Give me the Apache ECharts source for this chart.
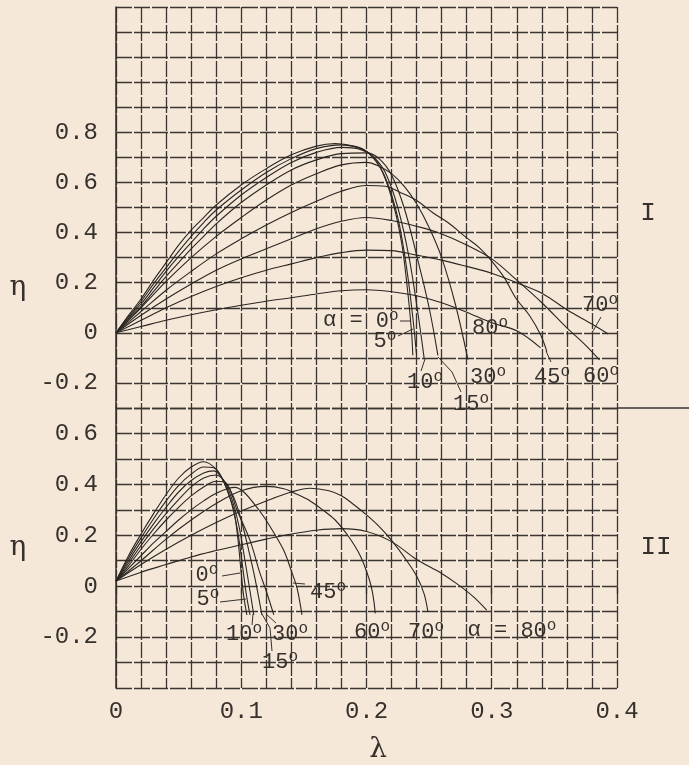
<!DOCTYPE html>
<html>
<head>
<meta charset="utf-8">
<script src="https://cdn.jsdelivr.net/npm/echarts/dist/echarts.min.js"></script>
<style>
html, body { margin: 0; padding: 0; background: #f6e8d9; }
#chart { width: 689px; height: 765px; }
</style>
</head>
<body>
<div id="chart"></div>
<script>
// tick labels that are printed
var lambdaTicks = [0, 0.1, 0.2, 0.3, 0.4];
var etaTicksI = [-0.2, 0, 0.2, 0.4, 0.6, 0.8];
var etaTicksII = [-0.2, 0, 0.2, 0.4, 0.6];

var alphas = ['0°', '5°', '10°', '15°', '30°', '45°', '60°', '70°', '80°'];

// panel I  [lambda, eta]
var I0 = [[0,0],[0.01,0.07],[0.02,0.135],[0.03,0.21],[0.04,0.28],[0.05,0.35],[0.06,0.41],[0.07,0.46],[0.08,0.51],[0.1,0.59],[0.12,0.655],[0.14,0.71],[0.16,0.745],[0.175,0.755],[0.19,0.745],[0.2,0.725],[0.21,0.67],[0.22,0.54],[0.228,0.36],[0.233,0.16],[0.236,0.0],[0.237,-0.09]];
var I5 = [[0,0],[0.01,0.065],[0.02,0.125],[0.03,0.195],[0.04,0.26],[0.05,0.325],[0.06,0.385],[0.07,0.44],[0.08,0.49],[0.1,0.57],[0.12,0.64],[0.14,0.695],[0.16,0.735],[0.18,0.75],[0.195,0.735],[0.205,0.7],[0.215,0.62],[0.225,0.46],[0.232,0.26],[0.237,0.06],[0.24,-0.09]];
var I10 = [[0,0],[0.01,0.06],[0.02,0.115],[0.03,0.18],[0.04,0.245],[0.05,0.305],[0.06,0.36],[0.07,0.415],[0.08,0.465],[0.1,0.55],[0.12,0.62],[0.14,0.68],[0.16,0.72],[0.18,0.74],[0.195,0.732],[0.205,0.705],[0.215,0.64],[0.225,0.5],[0.234,0.3],[0.241,0.08],[0.246,-0.1]];
var I15 = [[0,0],[0.01,0.055],[0.02,0.105],[0.03,0.165],[0.04,0.225],[0.05,0.28],[0.06,0.335],[0.07,0.385],[0.08,0.435],[0.1,0.52],[0.12,0.59],[0.14,0.65],[0.16,0.69],[0.18,0.715],[0.2,0.718],[0.21,0.695],[0.22,0.63],[0.23,0.5],[0.24,0.31],[0.25,0.1],[0.257,-0.09]];
var I30 = [[0,0],[0.01,0.05],[0.02,0.1],[0.04,0.205],[0.06,0.3],[0.08,0.385],[0.1,0.46],[0.12,0.53],[0.14,0.59],[0.16,0.635],[0.18,0.67],[0.2,0.68],[0.21,0.665],[0.22,0.635],[0.23,0.585],[0.24,0.515],[0.25,0.42],[0.26,0.3],[0.271,0.113],[0.281,-0.107]];
var I45 = [[0,0],[0.02,0.085],[0.04,0.17],[0.06,0.245],[0.08,0.315],[0.1,0.375],[0.12,0.43],[0.14,0.48],[0.16,0.525],[0.18,0.565],[0.2,0.588],[0.215,0.585],[0.227,0.56],[0.24,0.528],[0.253,0.479],[0.265,0.44],[0.28,0.379],[0.29,0.34],[0.299,0.292],[0.31,0.22],[0.319,0.14],[0.33,0.07],[0.339,-0.008],[0.344,-0.075]];
var I60 = [[0,0],[0.02,0.07],[0.04,0.135],[0.06,0.195],[0.08,0.25],[0.1,0.295],[0.12,0.335],[0.14,0.375],[0.16,0.415],[0.18,0.445],[0.2,0.46],[0.22,0.448],[0.24,0.425],[0.257,0.4],[0.28,0.35],[0.3,0.295],[0.32,0.21],[0.34,0.12],[0.36,0.02],[0.375,-0.05],[0.386,-0.108]];
var I70 = [[0,0],[0.02,0.05],[0.04,0.1],[0.06,0.145],[0.08,0.185],[0.1,0.22],[0.12,0.25],[0.14,0.275],[0.16,0.3],[0.18,0.32],[0.2,0.33],[0.22,0.328],[0.24,0.31],[0.26,0.29],[0.28,0.265],[0.3,0.238],[0.32,0.2],[0.34,0.158],[0.36,0.092],[0.38,0.035],[0.393,-0.005]];
var I80 = [[0,0],[0.02,0.025],[0.04,0.05],[0.06,0.072],[0.08,0.092],[0.1,0.11],[0.12,0.126],[0.14,0.14],[0.16,0.155],[0.18,0.168],[0.2,0.172],[0.22,0.164],[0.24,0.148],[0.26,0.12],[0.28,0.082],[0.3,0.04],[0.32,0.008],[0.339,-0.06]];

// panel II  [lambda, eta]
var II0 = [[0,0.02],[0.01,0.12],[0.02,0.205],[0.03,0.285],[0.04,0.36],[0.05,0.425],[0.06,0.468],[0.07,0.489],[0.08,0.46],[0.086,0.41],[0.09,0.36],[0.094,0.3],[0.097,0.2],[0.1,0.05],[0.102,-0.04],[0.1045,-0.113]];
var II5 = [[0,0.02],[0.01,0.11],[0.02,0.19],[0.03,0.265],[0.04,0.335],[0.05,0.395],[0.06,0.44],[0.07,0.468],[0.078,0.465],[0.086,0.41],[0.092,0.33],[0.097,0.22],[0.101,0.08],[0.104,-0.03],[0.107,-0.113]];
var II10 = [[0,0.02],[0.01,0.1],[0.02,0.175],[0.03,0.245],[0.04,0.31],[0.05,0.37],[0.06,0.415],[0.07,0.445],[0.078,0.453],[0.086,0.415],[0.092,0.35],[0.098,0.24],[0.103,0.1],[0.107,-0.02],[0.11,-0.113]];
var II15 = [[0,0.02],[0.01,0.09],[0.02,0.16],[0.03,0.225],[0.04,0.285],[0.05,0.34],[0.06,0.39],[0.07,0.425],[0.08,0.437],[0.087,0.41],[0.094,0.35],[0.1,0.26],[0.106,0.14],[0.111,0.03],[0.1165,-0.113]];
var II30 = [[0,0.02],[0.01,0.08],[0.02,0.145],[0.03,0.205],[0.04,0.26],[0.05,0.31],[0.06,0.355],[0.07,0.39],[0.08,0.412],[0.088,0.405],[0.0965,0.3],[0.107,0.18],[0.115,0.05],[0.12,-0.02],[0.126,-0.113]];
var II45 = [[0,0.02],[0.01,0.07],[0.02,0.12],[0.03,0.17],[0.04,0.215],[0.05,0.26],[0.06,0.3],[0.07,0.335],[0.08,0.365],[0.09,0.385],[0.095,0.388],[0.102,0.37],[0.11,0.325],[0.118,0.273],[0.126,0.21],[0.134,0.14],[0.14,0.06],[0.1445,-0.007],[0.1485,-0.113]];
var II60 = [[0,0.02],[0.02,0.1],[0.04,0.185],[0.06,0.26],[0.08,0.325],[0.1,0.375],[0.12,0.392],[0.134,0.383],[0.145,0.36],[0.155,0.335],[0.165,0.3],[0.175,0.26],[0.185,0.2],[0.195,0.12],[0.202,0.03],[0.205,-0.03],[0.207,-0.107]];
var II70 = [[0,0.02],[0.02,0.085],[0.04,0.145],[0.06,0.2],[0.08,0.25],[0.1,0.295],[0.12,0.335],[0.14,0.37],[0.155,0.385],[0.17,0.375],[0.18,0.355],[0.19,0.32],[0.2,0.28],[0.21,0.235],[0.22,0.18],[0.23,0.115],[0.24,0.04],[0.246,-0.03],[0.249,-0.1]];
var II80 = [[0,0.02],[0.02,0.055],[0.04,0.085],[0.06,0.115],[0.08,0.14],[0.1,0.163],[0.12,0.185],[0.14,0.205],[0.16,0.22],[0.18,0.226],[0.2,0.215],[0.22,0.175],[0.24,0.105],[0.26,0.05],[0.272,0.01],[0.285,-0.04],[0.296,-0.094]];

var panelI = [I0, I5, I10, I15, I30, I45, I60, I70, I80];
var panelII = [II0, II5, II10, II15, II30, II45, II60, II70, II80];

var ink = '#36312c';
var gridLine = { color: '#3a3530', width: 1.3, type: [16, 2] };
var mono = '"Liberation Mono", "DejaVu Sans Mono", monospace';
var serif = '"DejaVu Serif", "Liberation Serif", serif';

var tickFmt = function (ticks) {
    return function (v) {
        var r = Math.round(v * 100) / 100;
        if (ticks.indexOf(r) < 0) return '';
        return r === 0 ? '0' : r.toFixed(1);
    };
};

var xAxisBase = function (idx, labels) {
    return {
        type: 'value', gridIndex: idx, min: 0, max: 0.4, interval: 0.1,
        axisLine: { show: false },
        axisTick: { show: labels, length: 8, lineStyle: { color: ink, width: 1.3 } },
        axisLabel: { show: labels, formatter: tickFmt(lambdaTicks), margin: 12,
            fontFamily: mono, fontSize: 24, color: ink },
        splitLine: { show: true, lineStyle: gridLine },
        minorTick: { show: false, splitNumber: 5 },
        minorSplitLine: { show: true, lineStyle: gridLine }
    };
};

var yAxisBase = function (idx, min, max, ticks) {
    return {
        type: 'value', gridIndex: idx, min: min, max: max, interval: 0.1,
        axisLine: { show: true, lineStyle: { color: ink, width: 1.5 } },
        axisTick: { show: false },
        axisLabel: { formatter: tickFmt(ticks), margin: 18,
            fontFamily: mono, fontSize: 24, color: ink },
        splitLine: { show: true, lineStyle: gridLine }
    };
};

var series = [];
panelI.forEach(function (d, i) {
    series.push({ name: 'I ' + alphas[i], type: 'line', xAxisIndex: 0, yAxisIndex: 0,
        data: d, smooth: 0.35, showSymbol: false, silent: true,
        lineStyle: { color: '#2a2622', width: 1.1 } });
});
panelII.forEach(function (d, i) {
    series.push({ name: 'II ' + alphas[i], type: 'line', xAxisIndex: 1, yAxisIndex: 1,
        data: d, smooth: 0.35, showSymbol: false, silent: true,
        lineStyle: { color: '#2a2622', width: 1.1 } });
});

var chart = echarts.init(document.getElementById('chart'));
chart.setOption({
    backgroundColor: '#f6e8d9',
    animation: false,
    grid: [
        { left: 116, top: 7, width: 501, height: 401 },
        { left: 116, top: 408, width: 501, height: 280 }
    ],
    xAxis: [xAxisBase(0, false), xAxisBase(1, true)],
    yAxis: [yAxisBase(0, -0.3, 1.3, etaTicksI), yAxisBase(1, -0.4, 0.7, etaTicksII)],
    series: series
});

// annotations; the typed degree mark is a raised small "o"
var deg = function (s) { return s.replace(/(\S+?)°/g, '{n|$1}{d|o}'); };
var txt = function (s, x, y, opt) {
    opt = opt || {};
    var size = opt.size || 22;
    var fam = opt.family || mono;
    return { type: 'text', x: x, y: y, silent: true,
        style: { text: deg(s), fill: ink, font: size + 'px ' + fam,
            textAlign: opt.align || 'center', textVerticalAlign: 'middle',
            rich: {
                n: { fontFamily: fam, fontSize: size, lineHeight: 24, fill: ink, verticalAlign: 'bottom' },
                d: { fontFamily: fam, fontSize: 16, lineHeight: 24, fill: ink, verticalAlign: 'top' }
            } } };
};
var lead = function (pts) {
    return { type: 'polyline', silent: true, shape: { points: pts },
        style: { stroke: ink, lineWidth: 1, fill: null } };
};
var edge = chart.convertToPixel({ gridIndex: 0 }, [0.4, -0.3]);

chart.setOption({
    graphic: [
        { type: 'line', silent: true, shape: { x1: edge[0], y1: edge[1], x2: 689, y2: edge[1] },
          style: { stroke: '#3a3530', lineWidth: 1.3 } },
        txt('α = 0°', 323, 320, { align: 'left' }),
        txt('5°', 385, 340),
        txt('10°', 425, 381),
        txt('15°', 471, 403),
        txt('30°', 488, 376),
        txt('45°', 552, 376),
        txt('60°', 601, 375),
        txt('70°', 600, 304),
        txt('80°', 490, 327),
        lead([[400, 321], [411, 321]]),
        lead([[398, 336], [413, 329]]),
        lead([[421, 371], [425, 359]]),
        lead([[438, 357], [452, 372], [461, 392]]),
        lead([[546, 351], [551, 362]]),
        lead([[601, 317], [593, 331]]),
        txt('0°', 207, 574),
        txt('5°', 208, 598),
        txt('10°', 244, 633),
        txt('30°', 290, 633),
        txt('15°', 280, 661),
        txt('45°', 328, 591),
        txt('60°', 372, 631),
        txt('70°', 426, 631),
        txt('α = 80°', 512, 630),
        lead([[222, 576], [240, 573]]),
        lead([[220, 602], [246, 599]]),
        lead([[252, 625], [253, 614]]),
        lead([[266, 614], [276, 623]]),
        lead([[262, 614], [270, 628], [272, 651]]),
        lead([[293, 583], [305, 584]]),
        txt('I', 648, 213, { size: 26 }),
        txt('II', 656, 547, { size: 26 }),
        txt('η', 18, 288, { size: 28, family: serif }),
        txt('η', 18, 548, { size: 28, family: serif }),
        txt('λ', 378, 750, { size: 28, family: serif })
    ]
});
</script>
</body>
</html>
